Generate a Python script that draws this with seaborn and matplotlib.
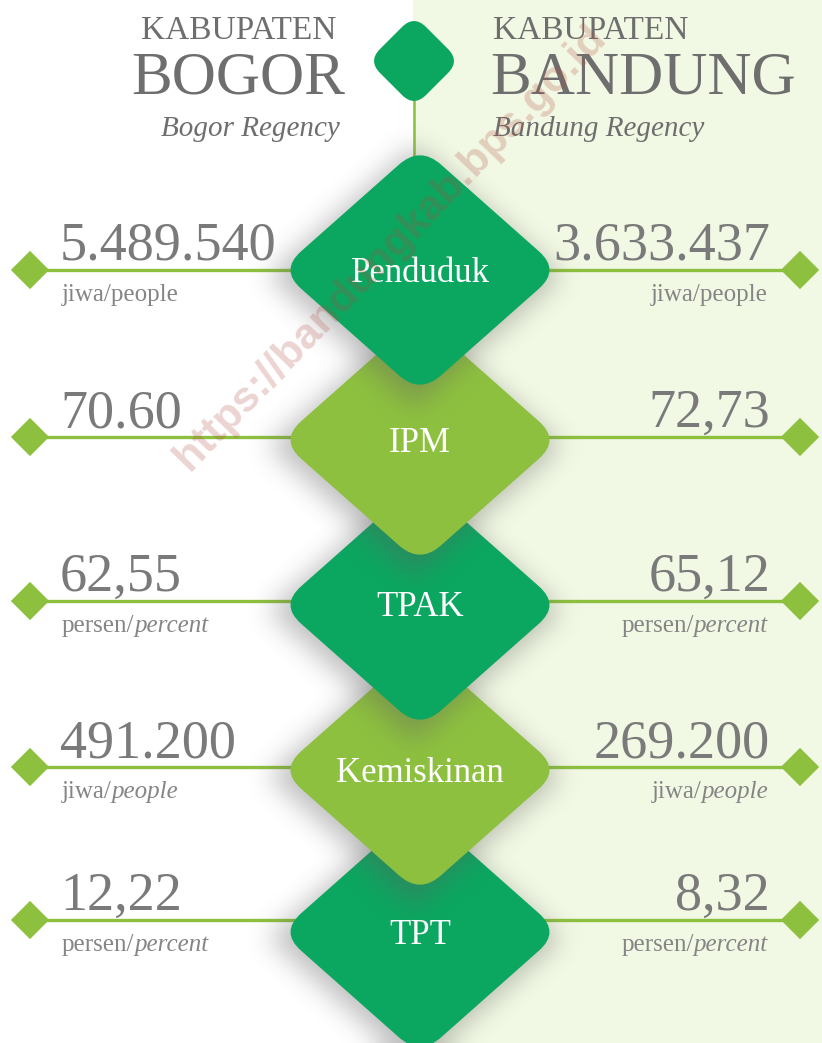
import matplotlib
matplotlib.use("Agg")
import matplotlib.pyplot as plt
from matplotlib.path import Path
from matplotlib.patches import PathPatch
import seaborn as sns
import numpy as np
import pandas as pd

# data
categories = ['Penduduk', 'IPM', 'TPAK', 'Kemiskinan', 'TPT']
bogor_values = ['5.489.540', '70.60', '62,55', '491.200', '12,22']
bandung_values = ['3.633.437', '72,73', '65,12', '269.200', '8,32']
unit_plain = ['jiwa/people', '', 'persen/', 'jiwa/', 'persen/']
unit_italic = ['', '', 'percent', 'people', 'percent']
regions = ['Bogor', 'Bandung']

# layout
W, H = 822, 1043
row_y = [270, 437, 601, 767, 920]
dia_y = [270, 440, 605, 770, 932]
dia_x = 420
DARK = '#0ba65f'
LIGHT = '#8dc03f'
dia_colors = [DARK, LIGHT, DARK, LIGHT, DARK]
GREY = '#6e6e6e'
SERIF = 'Liberation Serif'

sns.set_theme(style='white')
plt.rcParams['font.family'] = [SERIF, 'DejaVu Serif']

fig = plt.figure(figsize=(W / 100, H / 100), dpi=100)
ax = fig.add_axes([0, 0, 1, 1])


def rounded_diamond(cx, cy, hw, hh, r):
    pts = [np.array(p, float) for p in [(cx, cy - hh), (cx + hw, cy), (cx, cy + hh), (cx - hw, cy)]]
    verts, codes = [], []
    for k in range(4):
        p, prev, nxt = pts[k], pts[k - 1], pts[(k + 1) % 4]
        a = p + (prev - p) / np.linalg.norm(prev - p) * r
        b = p + (nxt - p) / np.linalg.norm(nxt - p) * r
        verts.append(a)
        codes.append(Path.MOVETO if k == 0 else Path.LINETO)
        verts += [p, b]
        codes += [Path.CURVE3, Path.CURVE3]
    verts.append(verts[0])
    codes.append(Path.CLOSEPOLY)
    return Path(verts, codes)


def blur(a, r):
    for _ in range(3):
        for axis in (0, 1):
            pad = [(0, 0), (0, 0)]
            pad[axis] = (r + 1, r)
            c = np.cumsum(np.pad(a, pad, mode='edge'), axis=axis)
            if axis == 0:
                a = (c[2 * r + 1:] - c[:-2 * r - 1]) / (2 * r + 1)
            else:
                a = (c[:, 2 * r + 1:] - c[:, :-2 * r - 1]) / (2 * r + 1)
    return a


# background
ax.axvspan(413, W, color='#f1f8e3', zorder=0, lw=0)

# horizontal lines and end markers
ax.hlines(row_y, 30, 800, color=LIGHT, lw=2.4, zorder=2)
ends = pd.DataFrame({
    'x': [30] * len(categories) + [800] * len(categories),
    'y': row_y + row_y,
    'region': [regions[0]] * len(categories) + [regions[1]] * len(categories),
})
sns.scatterplot(data=ends, x='x', y='y', marker='D', s=380, color=LIGHT,
                edgecolor='none', legend=False, ax=ax, zorder=3)

# shadows + big diamonds
yy, xx = np.mgrid[0:H, 0:W] + 0.5
for i, cat in enumerate(categories):
    cy = dia_y[i]
    z = 20 - 2 * i
    mask = (np.abs(xx - dia_x + 6) / 146 + np.abs(yy - cy - 6) / 130 <= 1).astype(float)
    sh = blur(mask, 12) * 0.4
    img = np.zeros((H, W, 4))
    img[..., :3] = 0.38
    img[..., 3] = sh
    ax.imshow(img, extent=(0, W, H, 0), aspect='auto', zorder=z - 1, interpolation='bilinear')
    ax.add_patch(PathPatch(rounded_diamond(dia_x, cy, 140, 124, 28),
                           facecolor=dia_colors[i], edgecolor='none', zorder=z))
    ax.text(dia_x, cy + 3, cat, color='white', fontsize=25, ha='center', va='center',
            zorder=z + 0.5, family=SERIF)

# top small diamond + connector
ax.vlines(414, 100, 160, color=LIGHT, lw=1.8, zorder=1)
ax.add_patch(PathPatch(rounded_diamond(414, 61, 46, 46, 17),
                       facecolor=DARK, edgecolor='none', zorder=5))

# headers
ax.text(336, 31, 'KABUPATEN', color=GREY, fontsize=24, ha='right', va='center')
ax.text(345, 79, 'BOGOR', color=GREY, fontsize=44, ha='right', va='center')
ax.text(340, 129, 'Bogor Regency', color=GREY, fontsize=21, style='italic', ha='right', va='center')
ax.text(493, 31, 'KABUPATEN', color=GREY, fontsize=24, ha='left', va='center')
ax.text(490, 79, 'BANDUNG', color=GREY, fontsize=44, ha='left', va='center')
ax.text(493, 129, 'Bandung Regency', color=GREY, fontsize=21, style='italic', ha='left', va='center')

# values and units
renderer = fig.canvas.get_renderer()
inv = ax.transData.inverted()
for i in range(len(categories)):
    y = row_y[i]
    ax.text(60, y - 10, bogor_values[i], color='#7a7a7a', fontsize=39, ha='left', va='baseline', zorder=30)
    ax.text(770, y - 10, bandung_values[i], color='#7a7a7a', fontsize=39, ha='right', va='baseline', zorder=30)
    if not (unit_plain[i] or unit_italic[i]):
        continue
    uy = y + 31
    # left side
    t1 = ax.text(62, uy, unit_plain[i], color='#858585', fontsize=18, ha='left', va='baseline', zorder=30)
    bb = t1.get_window_extent(renderer)
    x_end = inv.transform((bb.x1, bb.y0))[0]
    ax.text(x_end, uy, unit_italic[i], color='#858585', fontsize=18, style='italic',
            ha='left', va='baseline', zorder=30)
    # right side
    t2 = ax.text(768, uy, unit_italic[i], color='#858585', fontsize=18, style='italic',
                 ha='right', va='baseline', zorder=30)
    bb = t2.get_window_extent(renderer)
    x_start = inv.transform((bb.x0, bb.y0))[0] if unit_italic[i] else 768
    ax.text(x_start, uy, unit_plain[i], color='#858585', fontsize=18, ha='right', va='baseline', zorder=30)

# watermark
ax.text(390, 248, 'https://bandungkab.bps.go.id', color='#b04a40', alpha=0.24, fontsize=31,
        fontweight='bold', family='Liberation Sans', rotation=46, ha='center', va='center',
        rotation_mode='anchor', zorder=25)

ax.set_xlim(0, W)
ax.set_ylim(H, 0)
ax.axis('off')
fig.savefig('out.png', dpi=100)
